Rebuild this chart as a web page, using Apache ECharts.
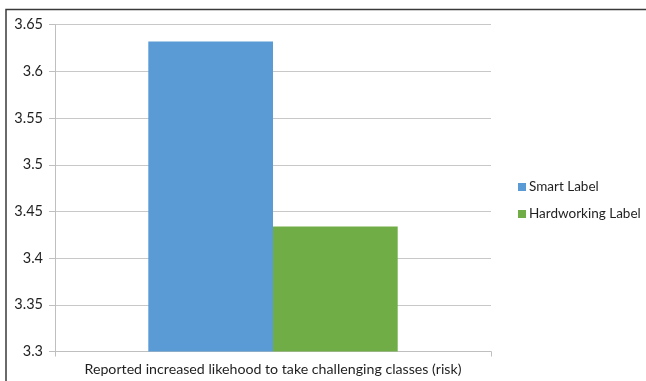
<!DOCTYPE html>
<html>
<head>
<meta charset="utf-8">
<script src="https://cdn.jsdelivr.net/npm/echarts@6/dist/echarts.min.js"></script>
<style>
  html, body { margin: 0; padding: 0; background: #fff; }
  #chart { width: 646px; height: 381px; }
</style>
</head>
<body>
<div id="chart"></div>
<script>
// Mean ratings by label condition
const categories = ['Reported increased likehood to take challenging classes (risk)'];
const seriesNames = ['Smart Label', 'Hardworking Label'];
const smartValues = [3.632];
const hardworkingValues = [3.434];
const yTicks = { min: 3.3, max: 3.65, step: 0.05 };

const FONT = 'Lato, "Open Sans", sans-serif';
const colors = ['#5b9bd5', '#70ad47'];

const chart = echarts.init(document.getElementById('chart'), null, { renderer: 'canvas' });
chart.setOption({
  animation: false,
  backgroundColor: '#ffffff',
  textStyle: { fontFamily: FONT },
  grid: { left: 55, right: 155, top: 24.7, bottom: 29.5, containLabel: false },
  legend: {
    orient: 'vertical',
    left: 513,
    top: 175,
    itemWidth: 8,
    itemHeight: 8,
    itemGap: 13,
    icon: 'rect',
    textStyle: { fontFamily: FONT, fontSize: 13.5, color: '#1f1f1f', padding: [0, 0, 0, -2] },
    data: seriesNames
  },
  xAxis: {
    type: 'category',
    data: categories,
    axisLine: { show: true, lineStyle: { color: '#bfbfbf', width: 1 } },
    axisTick: { show: true, length: 5, lineStyle: { color: '#bfbfbf' } },
    axisLabel: { fontFamily: FONT, fontSize: 14.2, color: '#1f1f1f', margin: 11 }
  },
  yAxis: {
    type: 'value',
    min: yTicks.min,
    max: yTicks.max,
    interval: yTicks.step,
    axisLine: { show: true, lineStyle: { color: '#bfbfbf', width: 1 } },
    axisTick: { show: true, length: 6, lineStyle: { color: '#bfbfbf' } },
    splitLine: { show: true, lineStyle: { color: '#c8c8c8', width: 1 } },
    axisLabel: {
      fontFamily: FONT, fontSize: 14.5, color: '#1f1f1f', margin: 12,
      formatter: v => String(parseFloat(v.toFixed(2)))
    }
  },
  series: [
    {
      name: seriesNames[0], type: 'bar', data: smartValues,
      itemStyle: { color: colors[0] },
      barGap: '0%', barCategoryGap: '42.8%'
    },
    {
      name: seriesNames[1], type: 'bar', data: hardworkingValues,
      itemStyle: { color: colors[1] },
      barGap: '0%', barCategoryGap: '42.8%'
    }
  ],
  graphic: [
    {
      type: 'polyline',
      shape: { points: [[6, 381], [6, 9.5], [646, 9.5]] },
      style: { stroke: '#3a3a3a', lineWidth: 1.5, fill: null }
    }
  ]
});
</script>
</body>
</html>
